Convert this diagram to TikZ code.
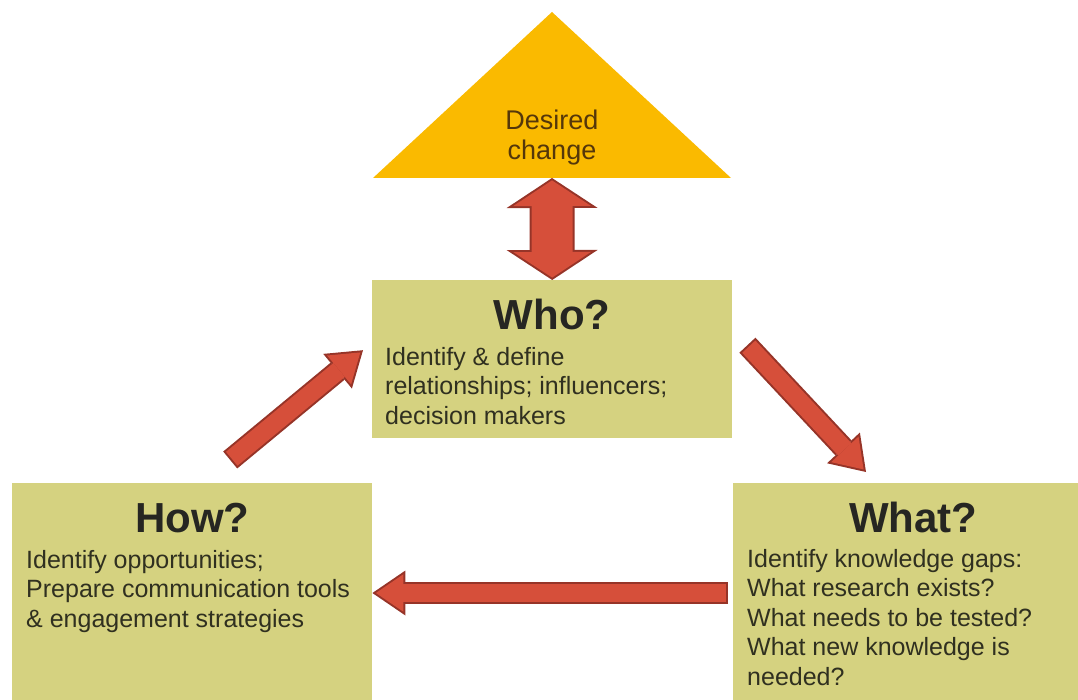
\documentclass[tikz,border=0pt]{standalone}
\usepackage{fontspec}
\setmainfont{Liberation Sans}
\usetikzlibrary{arrows.meta, calc, positioning}

\definecolor{panelfill}{RGB}{213,210,128}
\definecolor{goalfill}{RGB}{250,186,0}
\definecolor{arrowfill}{RGB}{214,79,58}
\definecolor{arrowdark}{RGB}{150,52,40}
\definecolor{goaltext}{RGB}{85,55,10}
\definecolor{headtext}{RGB}{38,38,34}
\definecolor{bodytext}{RGB}{48,48,32}

\begin{document}
\begin{tikzpicture}[x=1pt, y=-1pt,
    panel/.style={rectangle, fill=panelfill, minimum width=360pt,
      inner sep=0pt, anchor=north west},
    heading/.style={font=\fontsize{42}{48}\selectfont\bfseries,
      text=headtext, inner sep=0pt, anchor=base},
    blurb/.style={font=\fontsize{25}{29.5}\selectfont, text=bodytext,
      align=left, inner sep=0pt, anchor=north west},
    goaltxt/.style={font=\fontsize{27}{30}\selectfont, text=goaltext,
      align=center, inner sep=0pt},
    flowline/.style={draw=arrowdark, line width=22pt,
      -{Triangle[length=33pt, width=45pt, line width=0pt]}},
    flowfill/.style={draw=arrowfill, line width=18pt,
      shorten <=2pt, shorten >=3.5pt,
      -{Triangle[length=27.5pt, width=37.5pt, line width=0pt]}},
    twinline/.style={draw=arrowdark, line width=45pt,
      {Triangle[length=30pt, width=91pt, line width=0pt]}-{Triangle[length=30pt, width=91pt, line width=0pt]}},
    twinfill/.style={draw=arrowfill, line width=41pt,
      shorten <=2.4pt, shorten >=2.4pt,
      {Triangle[length=25.6pt, width=77.7pt, line width=0pt]}-{Triangle[length=25.6pt, width=77.7pt, line width=0pt]}}
  ]
  \useasboundingbox (0,0) rectangle (1078,700);
  \clip (0,0) rectangle (1078,700);

  % goal triangle on top
  \coordinate (apex) at (552,12);
  \coordinate (baseL) at (373,178);
  \coordinate (baseR) at (731,178);
  \coordinate (goalbase) at (552,178);
  \fill[goalfill] (apex) -- (baseR) -- (baseL) -- cycle;
  \node[goaltxt] (goal) at (552,138) {Desired\\change};

  % the three panels
  \node[panel, minimum height=158pt] (who) at (372,280) {};
  \node[panel, minimum height=230pt] (how) at (12,483) {};
  \node[panel, minimum height=230pt] (what) at (733,483) {};

  \node[heading] (whohead) at ($(who.north)+(0,50)$) {Who?};
  \node[blurb] (whotext) at ($(who.north west)+(13,67)$)
    {Identify \& define\\relationships; influencers;\\decision makers};

  \node[heading] (howhead) at ($(how.north)+(0,49)$) {How?};
  \node[blurb] (howtext) at ($(how.north west)+(14,67)$)
    {Identify opportunities;\\Prepare communication tools\\\& engagement strategies};

  \node[heading] (whathead) at ($(what.north)+(0,49)$) {What?};
  \node[blurb] (whattext) at ($(what.north west)+(14,66)$)
    {Identify knowledge gaps:\\What research exists?\\What needs to be tested?\\What new knowledge is\\needed?};

  % arrow ends
  \coordinate (whoout) at ($(who.east)+(15,-14)$);
  \coordinate (whatin) at ($(what.north west)+(133,-11)$);
  \coordinate (whatout) at ($(what.north west)+(-5,110)$);
  \coordinate (howin) at ($(how.north east)+(0,110)$);
  \coordinate (howout) at ($(how.north)+(38,-23)$);
  \coordinate (whoin) at ($(who.west)+(-9,-9)$);

  % block arrows: dark rim first, then the body
  \draw[twinline] (goalbase) -- (who.north);
  \draw[twinfill] (goalbase) -- (who.north);
  \draw[flowline] (whoout) -- (whatin);
  \draw[flowfill] (whoout) -- (whatin);
  \draw[flowline] (whatout) -- (howin);
  \draw[flowfill] (whatout) -- (howin);
  \draw[flowline] (howout) -- (whoin);
  \draw[flowfill] (howout) -- (whoin);
\end{tikzpicture}
\end{document}
